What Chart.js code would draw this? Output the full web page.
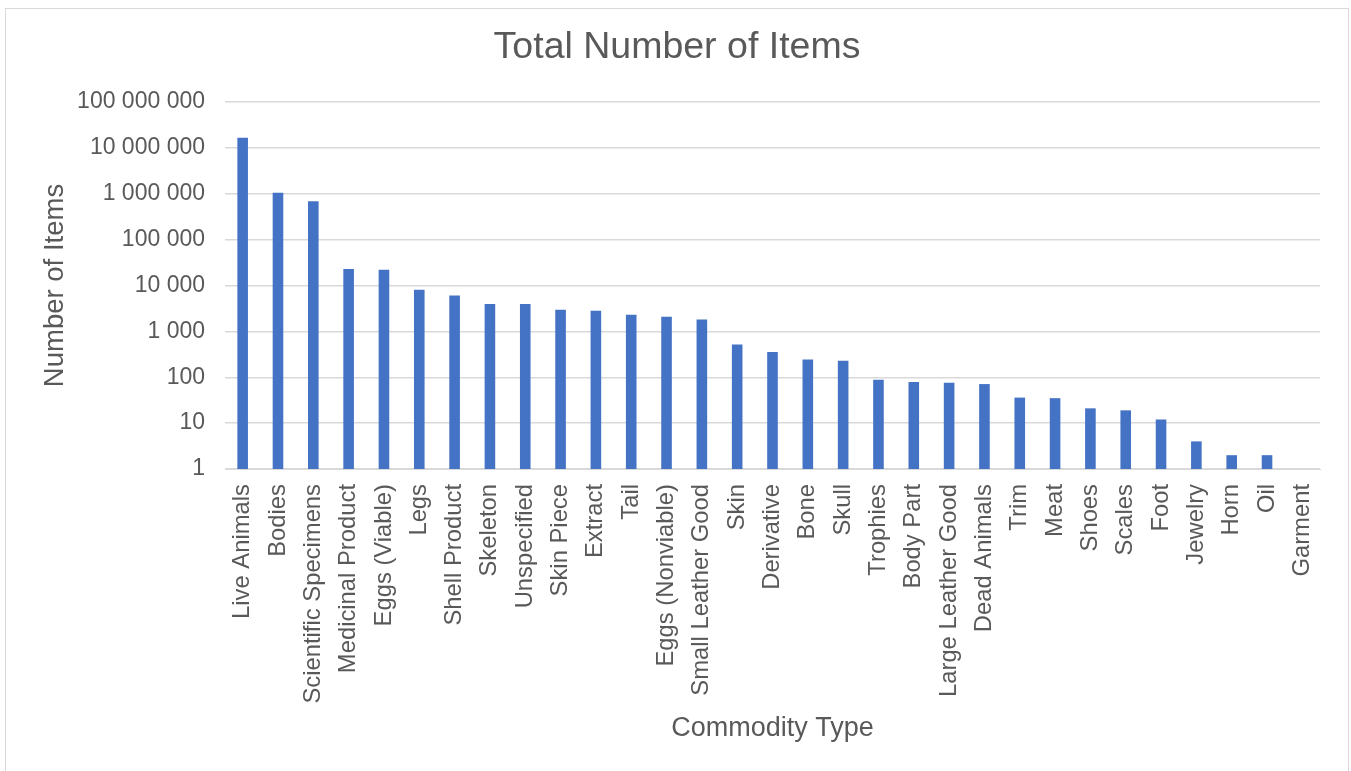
<!DOCTYPE html>
<html>
<head>
<meta charset="utf-8">
<script src="https://cdn.jsdelivr.net/npm/chart.js@4"></script>
<style>
  html, body { margin: 0; padding: 0; background: #ffffff; }
  #wrap { width: 1351px; height: 771px; position: relative; }
</style>
</head>
<body>
<div id="wrap"><canvas id="c" width="1351" height="771"></canvas></div>
<script>
const categories = ["Live Animals","Bodies","Scientific Specimens","Medicinal Product","Eggs (Viable)","Legs","Shell Product","Skeleton","Unspecified","Skin Piece","Extract","Tail","Eggs (Nonviable)","Small Leather Good","Skin","Derivative","Bone","Skull","Trophies","Body Part","Large Leather Good","Dead Animals","Trim","Meat","Shoes","Scales","Foot","Jewelry","Horn","Oil","Garment"];
const totalItems = [16700000,1050000,690000,22800,22000,8050,6050,3940,3940,2960,2810,2300,2080,1820,519,354,244,229,88,79,76,71,36,35,21,19,12,4,2,2,1];
const yTickValues = [1,10,100,1000,10000,100000,1000000,10000000,100000000];
const chartTitle = 'Total Number of Items';

const FONT = "'Liberation Sans', Arial, sans-serif";
const TEXT = '#595959';

function fmt(v) {
  return String(Math.round(v)).replace(/\B(?=(\d{3})+(?!\d))/g, ' ');
}

const frame = {
  id: 'frame',
  beforeDraw(chart) {
    const ctx = chart.ctx;
    ctx.save();
    ctx.fillStyle = '#ffffff';
    ctx.fillRect(0, 0, chart.width, chart.height);
    ctx.strokeStyle = '#d9d9d9';
    ctx.lineWidth = 1;
    ctx.strokeRect(5.5, 8.5, 1343, 800);
    ctx.restore();
  },
  afterDraw(chart) {
    const ctx = chart.ctx;
    ctx.save();
    ctx.fillStyle = TEXT;
    ctx.font = '37.5px ' + FONT;
    ctx.textAlign = 'center';
    ctx.textBaseline = 'middle';
    ctx.fillText(chartTitle, 677, 48);
    ctx.restore();
  }
};

new Chart(document.getElementById('c'), {
  type: 'bar',
  data: {
    labels: categories,
    datasets: [{
      label: chartTitle,
      data: totalItems,
      backgroundColor: '#4472C4',
      borderWidth: 0,
      barPercentage: 0.6,
      categoryPercentage: 0.5
    }]
  },
  options: {
    responsive: false,
    animation: false,
    layout: { padding: { left: 0, right: 31, top: 102, bottom: 0 } },
    plugins: {
      legend: { display: false },
      tooltip: { enabled: false },
      title: { display: false }
    },
    scales: {
      x: {
        grid: { display: false, drawTicks: false },
        border: { display: true, color: '#d9d9d9', width: 1 },
        ticks: {
          color: TEXT,
          font: { family: FONT, size: 23.8 },
          maxRotation: 90, minRotation: 90,
          autoSkip: false,
          padding: 15
        },
        title: {
          display: true,
          text: 'Commodity Type',
          color: TEXT,
          font: { family: FONT, size: 27, lineHeight: 1.2 },
          padding: { top: 0, bottom: 25.8 }
        },
        afterFit(scale) { scale.height = 302; }
      },
      y: {
        type: 'logarithmic',
        min: 1,
        max: 100000000,
        grid: { color: '#d9d9d9', lineWidth: 1.5, drawTicks: false },
        border: { display: false },
        afterBuildTicks(scale) {
          scale.ticks = yTickValues.map(v => ({ value: v, major: true }));
        },
        ticks: {
          color: TEXT,
          font: { family: FONT, size: 23 },
          padding: 20,
          callback: (v) => fmt(v)
        },
        title: {
          display: true,
          text: 'Number of Items',
          color: TEXT,
          font: { family: FONT, size: 27.5, lineHeight: 1.2 },
          padding: { top: 38.5, bottom: 0 }
        },
        afterFit(scale) { scale.width = 225; }
      }
    }
  },
  plugins: [frame]
});
</script>
</body>
</html>
